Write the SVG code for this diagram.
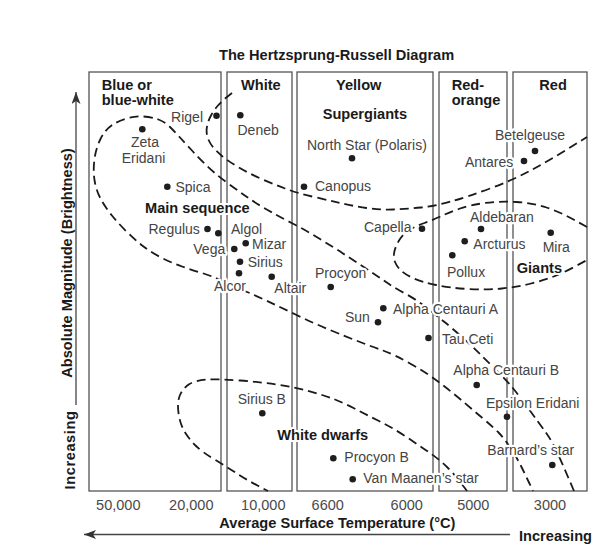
<svg xmlns="http://www.w3.org/2000/svg" width="613" height="546" viewBox="0 0 613 546">
<style>
text{font-family:"Liberation Sans",Arial,sans-serif}
.col{fill:none;stroke:#555;stroke-width:1.3}
.hd{font-size:14.6px;font-weight:bold;fill:#1a1a1a}
.rg{font-size:14.6px;font-weight:bold;fill:#1a1a1a;stroke:#fff;stroke-width:4;paint-order:stroke;stroke-linejoin:round}
.lb{font-size:14px;fill:#444;stroke:#fff;stroke-width:4.5;paint-order:stroke;stroke-linejoin:round}
.num{font-size:14.5px;fill:#4a4a4a;text-anchor:middle}
.dot{fill:#1e1e1e}
.dash{fill:none;stroke:#1a1a1a;stroke-width:1.8;stroke-dasharray:9 5}
.ax{stroke:#444;stroke-width:1.3;fill:none}
</style>
<defs>
<marker id="arr" markerUnits="userSpaceOnUse" markerWidth="14" markerHeight="10" refX="12" refY="4.5" orient="auto">
<path d="M0,0 L12,4.5 L0,9 L3,4.5 Z" fill="#333"/>
</marker>
</defs>
<rect width="613" height="546" fill="#fff"/>
<text x="219" y="60" class="hd" font-size="14.7">The Hertzsprung-Russell Diagram</text>
<g id="columns">
<rect class="col" x="89" y="72" width="132" height="419"/>
<rect class="col" x="227" y="72" width="65" height="419"/>
<rect class="col" x="297" y="72" width="136" height="419"/>
<rect class="col" x="439" y="72" width="68" height="419"/>
<rect class="col" x="513" y="72" width="74" height="419"/>
</g>
<g id="column-headers">
<text class="hd" x="101.7" y="89.5">Blue or</text>
<text class="hd" x="101.7" y="105">blue-white</text>
<text class="hd" x="241" y="89.5">White</text>
<text class="hd" x="336" y="89.5">Yellow</text>
<text class="hd" x="451.7" y="89.5">Red-</text>
<text class="hd" x="451.7" y="105">orange</text>
<text class="hd" x="539.3" y="89.5">Red</text>
</g>
<g id="connectors">
<path id="main-sequence-band" class="dash" d="M574,491 L568,477 Q562,463 557,452 Q552,441 545.5,432 Q539,423 528,408 Q517,393 512,387 Q507,381 498.5,372.5 Q490,364 481.5,355.5 Q473,347 462.5,337.5 Q452,328 444.5,322 Q437,316 427,308 Q417,300 405,293.5 Q393,287 383,280 Q373,273 363,266.5 Q353,260 343,253.5 Q333,247 320,239 Q307,231 293.5,224 Q280,217 268.5,210.5 Q257,204 247,197 Q237,190 225.5,181.5 Q214,173 206,165 Q198,157 191.5,150 Q185,143 180,137.5 Q175,132 170,127 Q165,122 158.5,119.5 Q152,117 143.5,116.5 Q135,116 126.5,118.5 Q118,121 111.5,125.5 Q105,130 100.5,139 Q96,148 94.5,159 Q93,170 94.5,180 Q96,190 100.5,198.5 Q105,207 111.5,215 Q118,223 126.5,231.5 Q135,240 143.5,246.5 Q152,253 162,258 Q172,263 182,266.5 Q192,270 202,273 Q212,276 221,280.5 Q230,285 240,289 Q250,293 265,300 Q280,307 296.5,315 Q313,323 330,330 Q347,337 360,342 Q373,347 383,350.5 Q393,354 410,363.5 Q427,373 440,383 Q453,393 463,401.5 Q473,410 483,418.5 Q493,427 498.5,432.5 Q504,438 510.5,448 Q517,458 521,466 Q525,474 529,482.5 L533,491"/>
<path id="supergiants-boundary" class="dash" d="M232,93 L227,97 Q222,101 218,105.5 Q214,110 211,115.5 Q208,121 207,126.5 Q206,132 207.5,137 Q209,142 212.5,146.5 Q216,151 222,156 Q228,161 238,167 Q248,173 260.5,178.5 Q273,184 285,188.5 Q297,193 312,196.5 Q327,200 340,203 Q353,206 366.5,208 Q380,210 393.5,209.5 Q407,209 421,207.5 Q435,206 451,201.5 Q467,197 490,188.5 Q513,180 531.5,170 Q550,160 568.5,148.5 L587,137"/>
<path id="giants-loop" class="dash" d="M587,227 L573.5,219.5 Q560,212 546.5,207.5 Q533,203 516.5,202 Q500,201 485,203 Q470,205 460,208.5 Q450,212 441.5,216 Q433,220 424.5,223 Q416,226 410,229.5 Q404,233 400,239 Q396,245 394.5,251 Q393,257 395,262 Q397,267 401.5,271 Q406,275 414,278.5 Q422,282 436,285 Q450,288 468.5,289 Q487,290 502,288.5 Q517,287 531,283.5 Q545,280 555,276 Q565,272 576,266 L587,260"/>
<path id="white-dwarfs-loop" class="dash" d="M467,491 L461,483 Q455,475 447.5,467.5 Q440,460 430,453 Q420,446 406.5,437 Q393,428 379,421 Q365,414 353.5,408 Q342,402 331,398 Q320,394 306.5,390.5 Q293,387 276.5,384.5 Q260,382 240,380.5 Q220,379 208,379.5 Q196,380 189.5,384 Q183,388 180,395 Q177,402 178.5,413 Q180,424 184.5,431.5 Q189,439 195.5,445.5 Q202,452 214.5,459.5 Q227,467 237,473.5 Q247,480 257.5,485.5 L268,491"/>
</g>
<g id="region-labels">
<text class="rg" x="322.7" y="118.5">Supergiants</text>
<text class="rg" x="145" y="212.5">Main sequence</text>
<text class="rg" x="516.7" y="272.5">Giants</text>
<text class="rg" x="277.3" y="440">White dwarfs</text>
</g>
<g id="rigel"><circle class="dot" cx="216.5" cy="115.7" r="3.3"/><text class="lb" x="203" y="121.5" text-anchor="end">Rigel</text></g>
<g id="deneb"><circle class="dot" cx="240.3" cy="115.3" r="3.3"/><text class="lb" x="237.5" y="135">Deneb</text></g>
<g id="zeta-eridani"><circle class="dot" cx="142.3" cy="129.3" r="3.3"/><text class="lb" x="145" y="146.7" text-anchor="middle">Zeta</text><text class="lb" x="143.5" y="163.3" text-anchor="middle">Eridani</text></g>
<g id="spica"><circle class="dot" cx="167.3" cy="186.7" r="3.3"/><text class="lb" x="175.5" y="191.5">Spica</text></g>
<g id="north-star"><circle class="dot" cx="352" cy="158.3" r="3.3"/><text class="lb" x="307" y="149.5">North Star (Polaris)</text></g>
<g id="canopus"><circle class="dot" cx="304" cy="186.7" r="3.3"/><text class="lb" x="315" y="191">Canopus</text></g>
<g id="betelgeuse"><circle class="dot" cx="535" cy="151" r="3.3"/><text class="lb" x="495" y="140">Betelgeuse</text></g>
<g id="antares"><circle class="dot" cx="524" cy="161" r="3.3"/><text class="lb" x="465" y="166.5">Antares</text></g>
<g id="capella"><circle class="dot" cx="422" cy="228.7" r="3.3"/><text class="lb" x="364" y="231.7">Capella</text></g>
<g id="aldebaran"><circle class="dot" cx="481" cy="229" r="3.3"/><text class="lb" x="470" y="221.7">Aldebaran</text></g>
<g id="arcturus"><circle class="dot" cx="464.7" cy="241.3" r="3.3"/><text class="lb" x="473.3" y="249.3">Arcturus</text></g>
<g id="pollux"><circle class="dot" cx="452.3" cy="255.3" r="3.3"/><text class="lb" x="447" y="276.7">Pollux</text></g>
<g id="mira"><circle class="dot" cx="550.7" cy="232.7" r="3.3"/><text class="lb" x="542.7" y="251.7">Mira</text></g>
<g id="regulus"><circle class="dot" cx="207.5" cy="229" r="3.3"/><text class="lb" x="148.5" y="234">Regulus</text></g>
<g id="algol"><circle class="dot" cx="218.3" cy="233.3" r="3.3"/><text class="lb" x="231" y="233.5">Algol</text></g>
<g id="vega"><circle class="dot" cx="234.3" cy="249" r="3.3"/><text class="lb" x="193.3" y="254">Vega</text></g>
<g id="mizar"><circle class="dot" cx="245.7" cy="243.3" r="3.3"/><text class="lb" x="252" y="248.7">Mizar</text></g>
<g id="sirius"><circle class="dot" cx="240" cy="261.7" r="3.3"/><text class="lb" x="247.7" y="266.5">Sirius</text></g>
<g id="alcor"><circle class="dot" cx="239" cy="273.3" r="3.3"/><text class="lb" x="214" y="290.5">Alcor</text></g>
<g id="altair"><circle class="dot" cx="271.7" cy="276.7" r="3.3"/><text class="lb" x="274.3" y="293.3">Altair</text></g>
<g id="procyon"><circle class="dot" cx="330.7" cy="287" r="3.3"/><text class="lb" x="315" y="278.3">Procyon</text></g>
<g id="alpha-centauri-a"><circle class="dot" cx="383.3" cy="308.3" r="3.3"/><text class="lb" x="393" y="314">Alpha Centauri A</text></g>
<g id="sun"><circle class="dot" cx="378" cy="322.3" r="3.3"/><text class="lb" x="345" y="321.7">Sun</text></g>
<g id="tau-ceti"><circle class="dot" cx="428.5" cy="338" r="3.3"/><text class="lb" x="442" y="344">Tau Ceti</text></g>
<g id="alpha-centauri-b"><circle class="dot" cx="476.7" cy="385" r="3.3"/><text class="lb" x="453.3" y="375">Alpha Centauri B</text></g>
<g id="epsilon-eridani"><circle class="dot" cx="507" cy="416.7" r="3.3"/><text class="lb" x="486" y="408.3">Epsilon Eridani</text></g>
<g id="barnards-star"><circle class="dot" cx="552.3" cy="465" r="3.3"/><text class="lb" x="487.3" y="455">Barnard’s star</text></g>
<g id="sirius-b"><circle class="dot" cx="262.3" cy="413.3" r="3.3"/><text class="lb" x="237.7" y="403.5">Sirius B</text></g>
<g id="procyon-b"><circle class="dot" cx="333.3" cy="458.3" r="3.3"/><text class="lb" x="344.3" y="461.7">Procyon B</text></g>
<g id="van-maanens-star"><circle class="dot" cx="352.7" cy="479.3" r="3.3"/><text class="lb" x="363.3" y="483">Van Maanen’s star</text></g>
<g id="temperature-scale">
<text class="num" x="118.3" y="509.5">50,000</text>
<text class="num" x="191.3" y="509.5">20,000</text>
<text class="num" x="263.3" y="509.5">10,000</text>
<text class="num" x="327.7" y="509.5">6600</text>
<text class="num" x="406.7" y="509.5">6000</text>
<text class="num" x="473.3" y="509.5">5000</text>
<text class="num" x="550" y="509.5">3000</text>
</g>
<g id="axes">
<line class="ax" x1="510" y1="534.5" x2="84" y2="534.5" marker-end="url(#arr)"/>
<text class="hd" x="219.3" y="528">Average Surface Temperature (°C)</text>
<text class="hd" x="519" y="541">Increasing</text>
<line class="ax" x1="76" y1="405" x2="76" y2="92" marker-end="url(#arr)"/>
<text class="hd" transform="translate(71.5,263) rotate(-90)" text-anchor="middle">Absolute Magnitude (Brightness)</text>
<text class="hd" transform="translate(75,450) rotate(-90)" text-anchor="middle" letter-spacing="0.6">Increasing</text>
</g>
</svg>
